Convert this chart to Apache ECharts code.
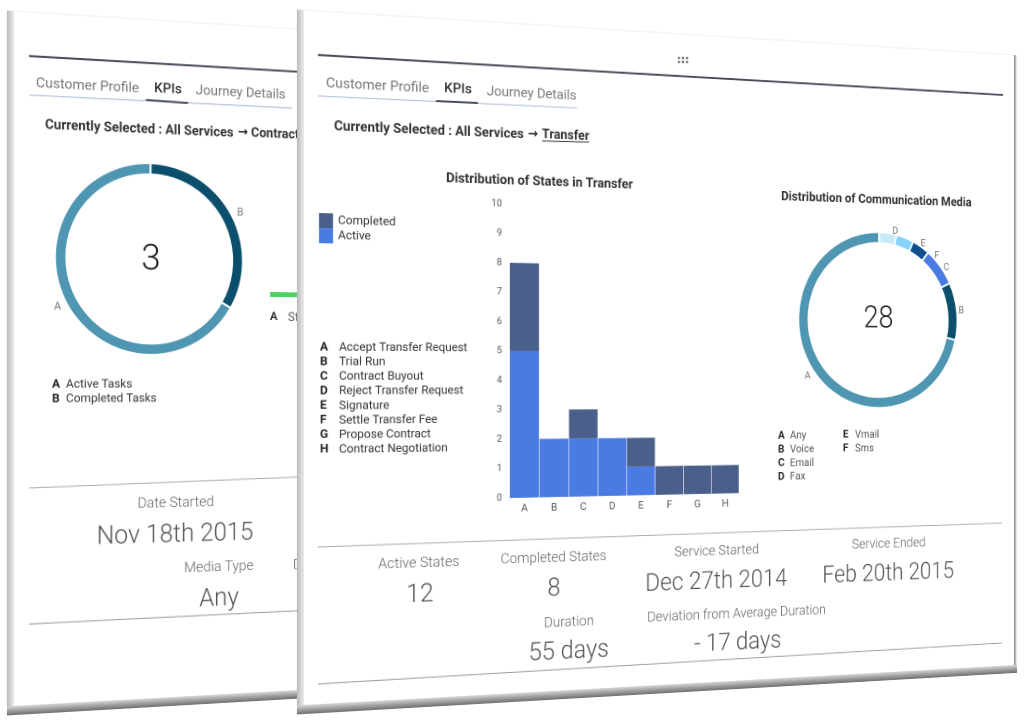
<!DOCTYPE html>
<html>
<head>
<meta charset="utf-8">
<script src="https://cdn.jsdelivr.net/npm/echarts@6/dist/echarts.min.js"></script>
<style>
  html, body { margin: 0; padding: 0; background: #fff; overflow: hidden; width: 1027px; height: 726px; }
  .panel { position: absolute; left: 0; top: 0; transform-origin: 0 0; }
</style>
</head>
<body>
<div id="back" class="panel"></div>
<div id="front" class="panel"></div>
<script>
// chart data
var stateKeys = ['A', 'B', 'C', 'D', 'E', 'F', 'G', 'H'];
var stateNames = ['Accept Transfer Request', 'Trial Run', 'Contract Buyout', 'Reject Transfer Request', 'Signature', 'Settle Transfer Fee', 'Propose Contract', 'Contract Negotiation'];
var activeValues = [5, 2, 2, 2, 1, 0, 0, 0];
var completedValues = [3, 0, 1, 0, 1, 1, 1, 1];
var stateTicks = 10;

// clockwise from 12 o'clock, as drawn
var mediaKeys = ['D', 'E', 'F', 'C', 'B', 'A'];
var mediaValues = [1, 1, 1, 2, 3, 20];
var mediaColors = ['#c8eaf5', '#84d4fb', '#0e4f8e', '#4a7be2', '#0b4f6c', '#4f96b2'];
var mediaLegendLeft = [['A', 'Any'], ['B', 'Voice'], ['C', 'Email'], ['D', 'Fax']];
var mediaLegendRight = [['E', 'Vmail'], ['F', 'Sms']];

var taskKeys = ['B', 'A'];
var taskValues = [1, 2];
var taskColors = ['#0b4f6c', '#4f96b2'];
var taskLegend = [['A', 'Active Tasks'], ['B', 'Completed Tasks']];
var hiddenBarKeys = ['A'];
var hiddenBarValues = [1];

var FONT = 'Roboto, sans-serif';
var W = 800, H = 690, PAD = 14;

// homography from the flat panel to its skewed place on the page
function makePanel(id, quad) {
  var x0 = quad[0][0], y0 = quad[0][1], x1 = quad[1][0], y1 = quad[1][1];
  var x2 = quad[2][0], y2 = quad[2][1], x3 = quad[3][0], y3 = quad[3][1];
  var dx1 = x1 - x2, dx2 = x3 - x2, dx3 = x0 - x1 + x2 - x3;
  var dy1 = y1 - y2, dy2 = y3 - y2, dy3 = y0 - y1 + y2 - y3;
  var den = dx1 * dy2 - dx2 * dy1;
  var g = (dx3 * dy2 - dx2 * dy3) / den, h = (dx1 * dy3 - dx3 * dy1) / den;
  var a = x1 - x0 + g * x1, b = x3 - x0 + h * x3, c = x0;
  var d = y1 - y0 + g * y1, e = y3 - y0 + h * y3, f = y0;

  var el = document.getElementById(id);
  el.style.width = (W + PAD * 2) + 'px';
  el.style.height = (H + PAD * 2) + 'px';
  el.style.transform = 'matrix3d(' + [
    a / W, d / W, 0, g / W,
    b / H, e / H, 0, h / H,
    0, 0, 1, 0,
    c - a * PAD / W - b * PAD / H, f - d * PAD / W - e * PAD / H, 0, 1 - g * PAD / W - h * PAD / H
  ].join(',') + ')';

  // page position -> flat position
  function p(x, y) {
    var m11 = a - g * x, m12 = b - h * x, r1 = x - c;
    var m21 = d - g * y, m22 = e - h * y, r2 = y - f;
    var det = m11 * m22 - m12 * m21;
    var u = (r1 * m22 - m12 * r2) / det, v = (m11 * r2 - r1 * m21) / det;
    return [u * W + PAD, v * H + PAD];
  }
  return { el: el, p: p };
}

function txt(pt, text, size, color, weight, align, family) {
  return {
    type: 'text', x: pt[0], y: pt[1] + size * 0.1, silent: true,
    style: {
      text: text, fontSize: size, fontFamily: family || FONT, fontWeight: weight || 400,
      fill: color || '#555', textAlign: align || 'center', textVerticalAlign: 'middle'
    }
  };
}
function line(a, b, color, width) {
  return { type: 'line', silent: true, shape: { x1: a[0], y1: a[1], x2: b[0], y2: b[1] }, style: { stroke: color, lineWidth: width } };
}
function grad(x, y, w, h, stops, vertical) {
  return {
    type: 'rect', silent: true, shape: { x: x, y: y, width: w, height: h },
    style: { fill: { type: 'linear', x: 0, y: 0, x2: vertical ? 0 : 1, y2: vertical ? 1 : 0,
      colorStops: stops.map(function (c, i) { return { offset: i / (stops.length - 1), color: c }; }) } }
  };
}
function frame() {
  return [
    grad(PAD - 7, PAD, 7, H + 8, ['#b8b8b8', '#d4d4d4', '#ececec']),
    grad(PAD - 7, PAD + H, W + 11, 9, ['#d8d8d8', '#a0a0a0', '#707070'], true),
    grad(PAD + W, PAD, 3, H, ['#8c8c8c', '#d0d0d0']),
    { type: 'rect', silent: true, shape: { x: PAD, y: PAD, width: W, height: H }, style: { fill: '#fff' } },
    line([PAD, PAD], [PAD + W, PAD], '#ececec', 1)
  ];
}
function ring(center, radius, thick, keys, values, colors) {
  return {
    type: 'pie', center: center, radius: [radius - thick, radius], startAngle: 90, silent: true,
    data: keys.map(function (k, i) { return { name: k, value: values[i], itemStyle: { color: colors[i] } }; }),
    itemStyle: { borderColor: '#fff', borderWidth: 2 },
    label: { show: true, position: 'outside', formatter: '{b}', color: '#777', fontSize: 11, fontFamily: FONT },
    labelLine: { show: false, length: 2, length2: 0 },
    emphasis: { disabled: true }
  };
}

/* back panel */
var back = makePanel('back', [[14, 11], [724, 56], [724, 666], [14, 706]]);
var bp = back.p;
var backEls = frame().concat([
  line(bp(29, 56), bp(714, 96), '#444b57', 2),
  line(bp(29, 95), bp(292, 108), '#b4c2d8', 1.2),
  line(bp(146, 100), bp(188, 103), '#444b57', 2),
  txt(bp(88, 85), 'Customer Profile', 14, '#777', 400),
  txt(bp(168, 88), 'KPIs', 14, '#333', 500),
  txt(bp(241, 92), 'Journey Details', 14, '#777', 400),
  txt(bp(45, 124), 'Currently Selected : All Services', 13.5, '#333', 700, 'left'),
  txt(bp(238, 131), '→', 13, '#333', 700, 'left', 'DejaVu Sans'),
  txt(bp(251, 132), 'Contract', 13.5, '#333', 700, 'left'),
  txt(bp(151, 257), '3', 36, '#222', 300),
  txt(bp(270, 316), 'A', 12, '#333', 700, 'left'),
  txt(bp(288, 317), 'St', 12.5, '#555', 400, 'left'),
  line(bp(29, 488), bp(714, 460), '#aaa', 1),
  line(bp(29, 624), bp(714, 590), '#999', 1),
  txt(bp(176, 502), 'Date Started', 14.6, '#666', 300),
  txt(bp(176, 533), 'Nov 18th 2015', 25.5, '#555', 300),
  txt(bp(219, 566), 'Media Type', 14.6, '#666', 300),
  txt(bp(219, 597), 'Any', 25.5, '#555', 300),
  txt(bp(296, 530), 'D', 25.5, '#555', 300, 'left'),
  txt(bp(293, 564), 'D', 14.6, '#666', 300, 'left')
]);
taskLegend.forEach(function (row, i) {
  backEls.push(txt(bp(52, 383.5 + i * 14.5), row[0], 12, '#222', 700, 'left'));
  backEls.push(txt(bp(66, 383.5 + i * 14.5), row[1], 12, '#333', 400, 'left'));
});
var backChart = echarts.init(back.el, null, { devicePixelRatio: 2 });
var bc = bp(150.5, 259);
var bBar = bp(270, 292), bBarEnd = bp(420, 299);
backChart.setOption({
  animation: false,
  graphic: { elements: backEls },
  grid: { left: bBar[0], top: bBar[1], width: bBarEnd[0] - bBar[0], height: bBarEnd[1] - bBar[1] },
  xAxis: { type: 'value', min: 0, max: 1, show: false },
  yAxis: { type: 'category', data: hiddenBarKeys, show: false },
  series: [
    { type: 'bar', data: hiddenBarValues, barWidth: '100%', itemStyle: { color: '#4bd264' }, silent: true },
    ring(bc, (bp(244, 259)[0] - bp(56, 259)[0]) / 2, 11.5, taskKeys, taskValues, taskColors)
  ]
});

/* front panel */
var front = makePanel('front', [[304, 10], [1014, 55], [1014, 665], [304, 705]]);
var fp = front.p;
var els = frame().concat([
  line(fp(318, 55), fp(1003, 95), '#444b57', 2),
  line(fp(318, 96), fp(577, 108), '#b4c2d8', 1.2),
  line(fp(436, 101), fp(478, 103), '#444b57', 2),
  txt(fp(378, 85), 'Customer Profile', 14, '#777', 400),
  txt(fp(458, 88), 'KPIs', 14, '#333', 500),
  txt(fp(532, 93), 'Journey Details', 14, '#777', 400),
  txt(fp(334, 125.5), 'Currently Selected : All Services', 13.6, '#333', 700, 'left'),
  txt(fp(528, 133), '→', 13, '#333', 700, 'left', 'DejaVu Sans'),
  txt(fp(542, 133.5), 'Transfer', 13.5, '#333', 700, 'left'),
  line(fp(542, 141), fp(589, 142), '#333', 1),
  txt(fp(541, 181), 'Distribution of States in Transfer', 13.7, '#333', 700),
  txt(fp(878, 199), 'Distribution of Communication Media', 13.8, '#333', 700),
  txt(fp(878.5, 317), '28', 33, '#222', 300),
  line(fp(318, 547), fp(1002, 523), '#aaa', 1),
  line(fp(318, 684), fp(1002, 643), '#999', 1),
  txt(fp(419, 562), 'Active States', 14.6, '#666', 300),
  txt(fp(420, 593), '12', 25.5, '#555', 300),
  txt(fp(554, 557), 'Completed States', 14.6, '#666', 300),
  txt(fp(554, 587), '8', 25.5, '#555', 300),
  txt(fp(717, 550), 'Service Started', 14.6, '#666', 300),
  txt(fp(717, 580), 'Dec 27th 2014', 25.5, '#555', 300),
  txt(fp(889, 543), 'Service Ended', 14.6, '#666', 300),
  txt(fp(889, 572), 'Feb 20th 2015', 25.5, '#555', 300),
  txt(fp(569, 621), 'Duration', 14.6, '#666', 300),
  txt(fp(569, 650), '55 days', 25.5, '#555', 300),
  txt(fp(738, 613), 'Deviation from Average Duration', 14.6, '#666', 300),
  txt(fp(738, 641), '- 17 days', 25.5, '#555', 300)
]);
// drag handle dots
[0, 1, 2].forEach(function (c) {
  [0, 1].forEach(function (r) {
    var pt = fp(679 + c * 4, 58 + r * 4);
    els.push({ type: 'circle', silent: true, shape: { cx: pt[0], cy: pt[1], r: 1.3 }, style: { fill: '#666' } });
  });
});
stateKeys.forEach(function (k, i) {
  var y = 346.5 + i * 14.56;
  els.push(txt(fp(320, y), k, 12, '#222', 700, 'left'));
  els.push(txt(fp(339, y), stateNames[i], 12, '#333', 400, 'left'));
});
mediaLegendLeft.forEach(function (row, i) {
  var y = 435 + i * 13.7;
  els.push(txt(fp(778, y), row[0], 11.5, '#222', 700, 'left'));
  els.push(txt(fp(790, y), row[1], 11.5, '#555', 400, 'left'));
});
mediaLegendRight.forEach(function (row, i) {
  var y = 434 + i * 13.7;
  els.push(txt(fp(843, y), row[0], 11.5, '#222', 700, 'left'));
  els.push(txt(fp(855, y), row[1], 11.5, '#555', 400, 'left'));
});

var gridTL = fp(509.5, 204), gridBL = fp(509.5, 498), gridBR = fp(739, 492);
var legendAt = fp(319, 213);
var fc = fp(879, 320);
var frontChart = echarts.init(front.el, null, { devicePixelRatio: 2 });
frontChart.setOption({
  animation: false,
  graphic: { elements: els },
  legend: {
    left: legendAt[0], top: legendAt[1], orient: 'vertical', padding: 0, itemGap: 0,
    itemWidth: 14, itemHeight: 15, icon: 'rect', selectedMode: false,
    data: ['Completed', 'Active'],
    textStyle: { fontFamily: FONT, fontSize: 12, color: '#333', padding: [4, 0, 0, 0] }
  },
  grid: { left: gridTL[0], top: gridTL[1], width: gridBR[0] - gridBL[0], height: gridBL[1] - gridTL[1] },
  xAxis: {
    type: 'category', data: stateKeys,
    axisLine: { show: false }, axisTick: { show: false },
    axisLabel: { color: '#555', fontSize: 11, fontFamily: FONT, margin: 6 }
  },
  yAxis: {
    type: 'value', min: 0, max: stateTicks, interval: 1,
    axisLine: { show: false }, axisTick: { show: false }, splitLine: { show: false },
    axisLabel: { color: '#555', fontSize: 10, fontFamily: FONT, margin: 8 }
  },
  series: [
    { name: 'Active', type: 'bar', stack: 's', data: activeValues, barCategoryGap: '2%', itemStyle: { color: '#4a7be2' }, silent: true },
    { name: 'Completed', type: 'bar', stack: 's', data: completedValues, barCategoryGap: '2%', itemStyle: { color: '#4a5f8a' }, silent: true },
    ring(fc, (fp(958, 320)[0] - fp(799, 320)[0]) / 2, 12, mediaKeys, mediaValues, mediaColors)
  ]
});
</script>
</body>
</html>
